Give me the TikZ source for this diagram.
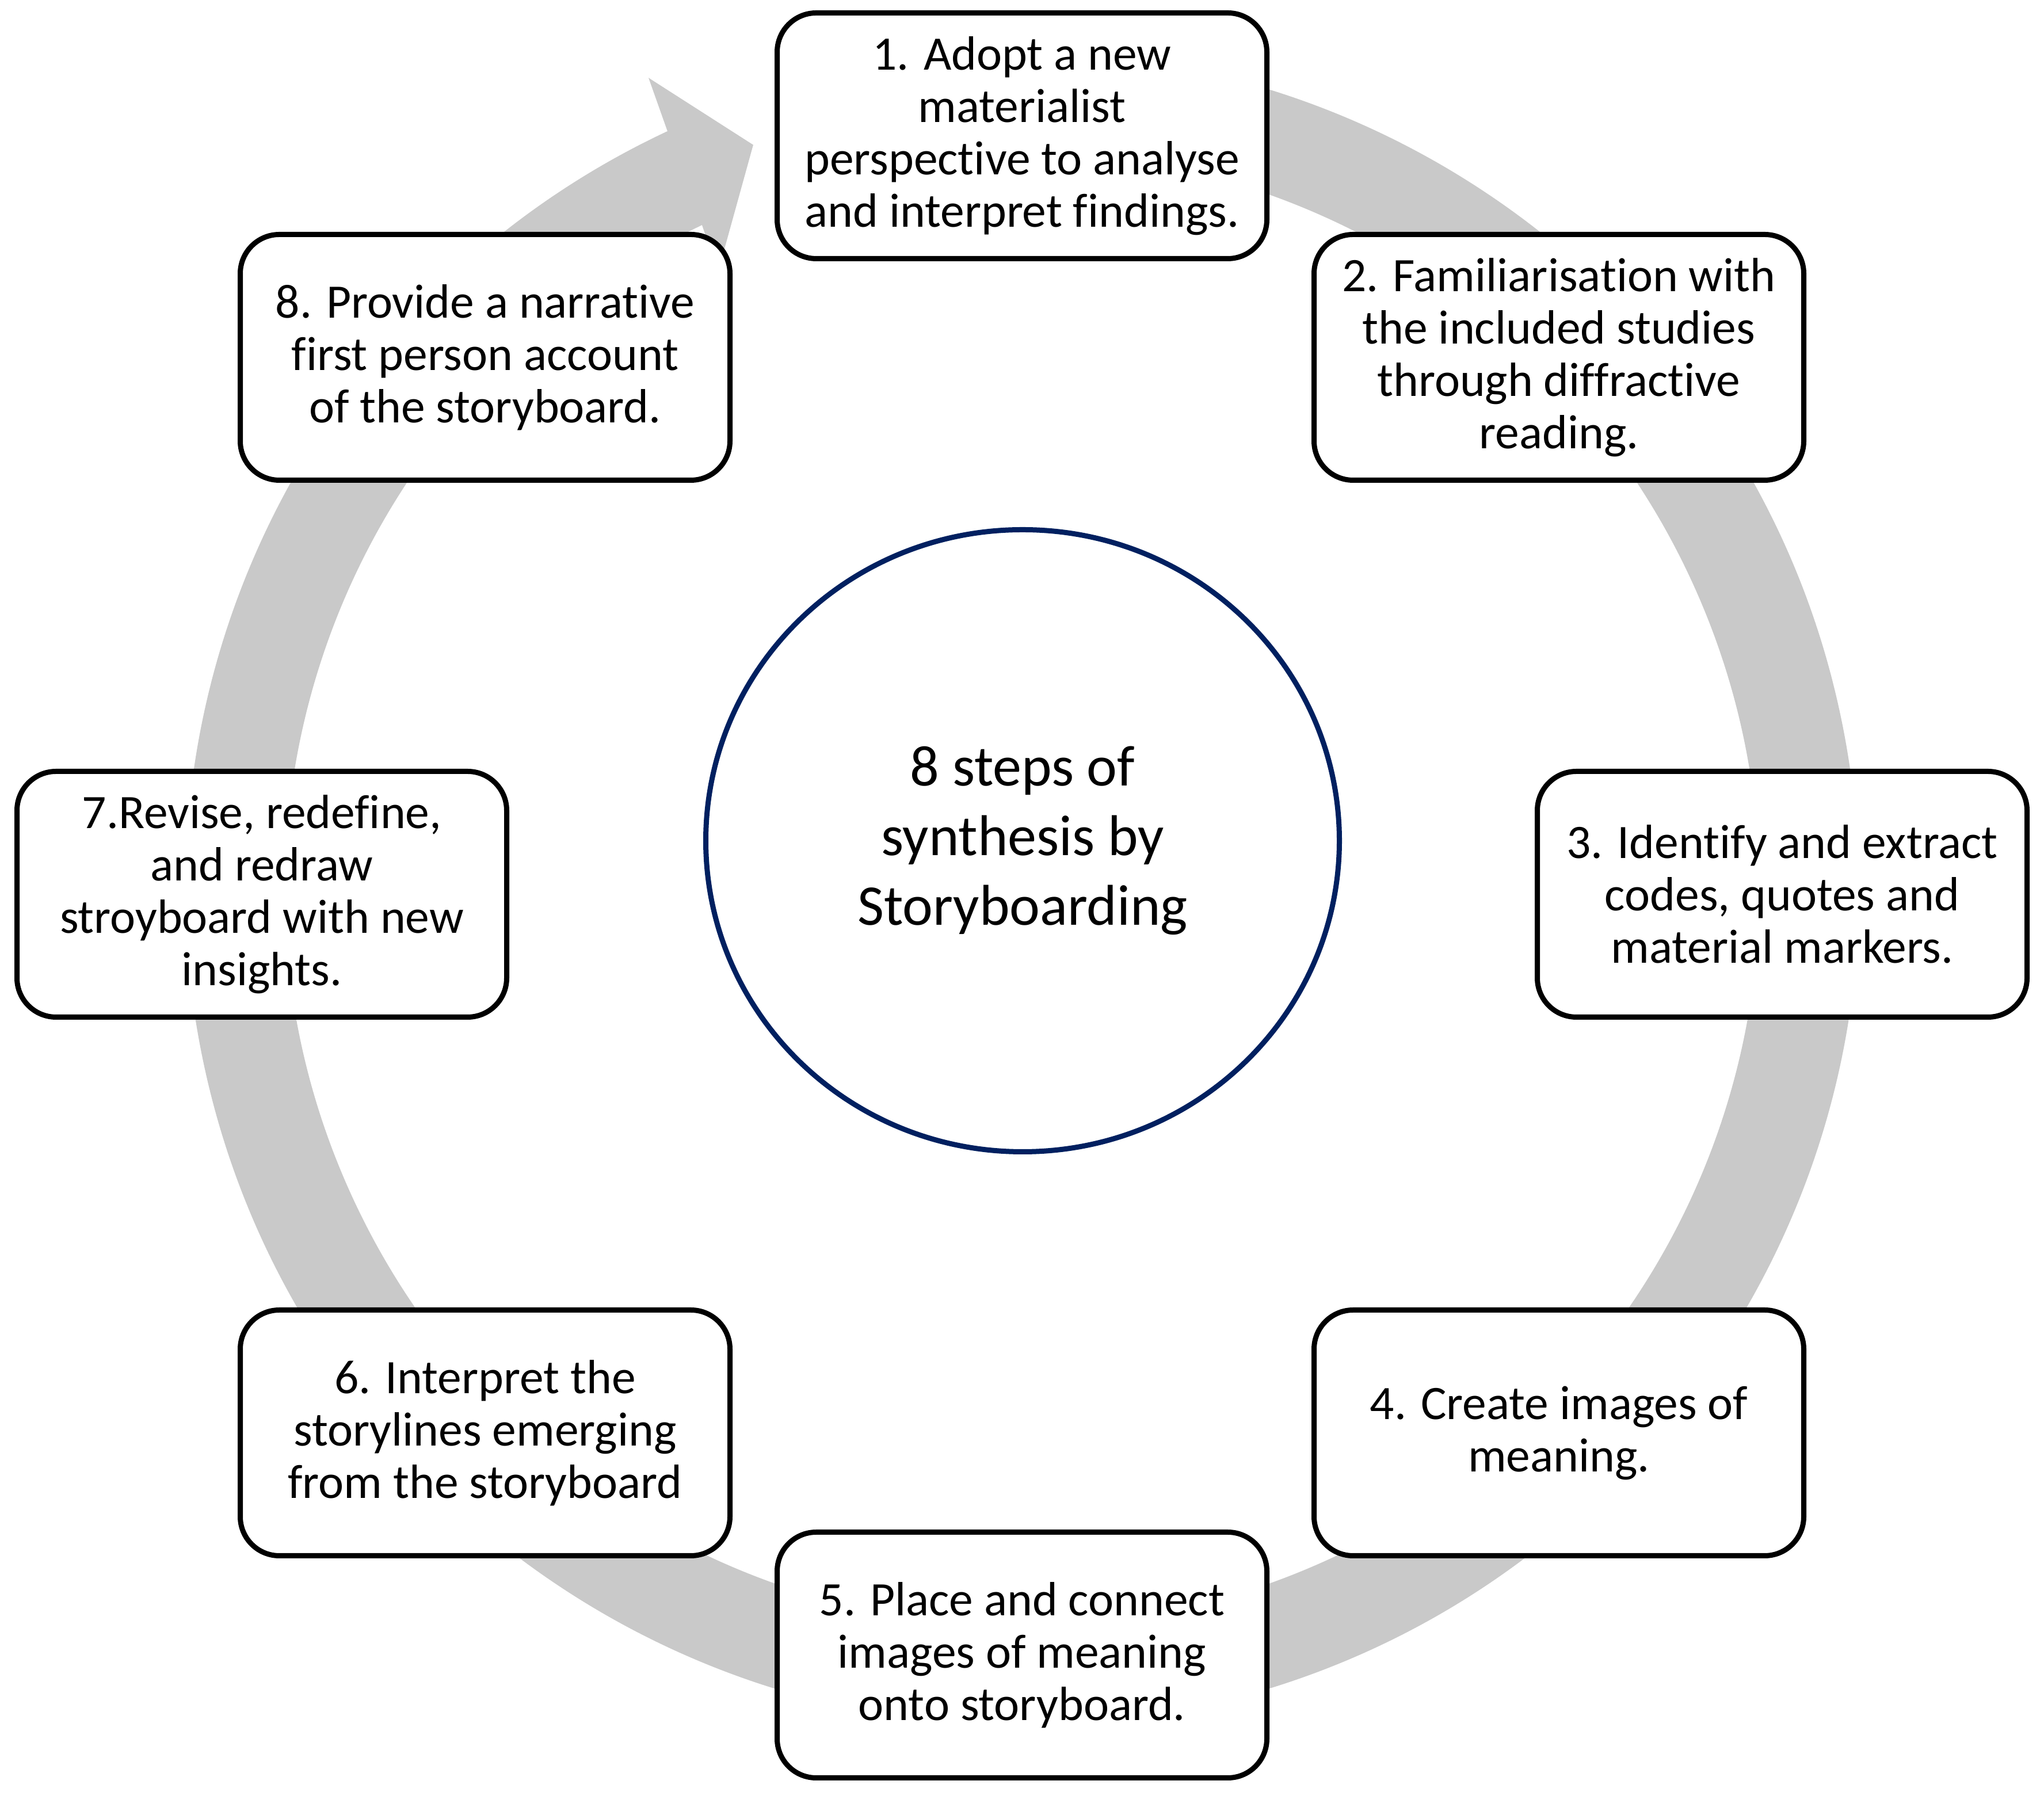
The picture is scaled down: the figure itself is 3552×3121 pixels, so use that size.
\documentclass[tikz,border=0pt]{standalone}
\usepackage{fontspec}
\setmainfont{Carlito}[Ligatures=NoCommon]
\usetikzlibrary{shapes.geometric}
\definecolor{ringgray}{RGB}{201,201,201}
\definecolor{navy}{RGB}{0,32,96}
\tikzset{
  stepbox/.style={draw=black, fill=white, line width=9pt, rounded corners=68pt,
    minimum width=851pt, minimum height=427pt, inner sep=0pt, align=center,
    font=\fontsize{83.5}{91}\selectfont},
  hub/.style={ellipse, draw=navy, line width=9pt, minimum width=1101pt,
    minimum height=1081pt, inner sep=0pt, align=center,
    font=\fontsize{100}{121}\selectfont}
}
\begin{document}
\begin{tikzpicture}[x=1pt,y=1pt]
\useasboundingbox (0,0) rectangle (3552,3121);
% ring with arrow head
\begin{scope}[shift={(1776,1576)}]
\fill[ringgray] (100:1454) arc[start angle=100, end angle=-244.93, radius=1454]
  -- (114.72:1552) -- (109.86:1375) -- (116.2:1196) -- (115.73:1281)
  arc[start angle=-244.27, end angle=100, radius=1281] -- cycle;
\end{scope}
% hub
\node[hub] (hub) at (1777,1660) {8 steps of\\synthesis by\\Storyboarding};
% steps
\node[stepbox] (s1) at (1776,2885) {1. Adopt a new\\materialist\\perspective to analyse\\and interpret findings.};
\node[stepbox] (s2) at (2709,2500) {2. Familiarisation with\\the included studies\\through diffractive\\reading.};
\node[stepbox] (s3) at (3097,1567) {3. Identify and extract\\codes, quotes and\\material markers.};
\node[stepbox] (s4) at (2709,631) {4. Create images of\\meaning.};
\node[stepbox] (s5) at (1776,245) {5. Place and connect\\images of meaning\\onto storyboard.};
\node[stepbox] (s6) at (843,631) {6. Interpret the\\storylines emerging\\from the storyboard};
\node[stepbox] (s7) at (455,1567) {7.Revise, redefine,\\and redraw\\stroyboard with new\\insights.};
\node[stepbox] (s8) at (843,2500) {8. Provide a narrative\\first person account\\of the storyboard.};
\end{tikzpicture}
\end{document}
